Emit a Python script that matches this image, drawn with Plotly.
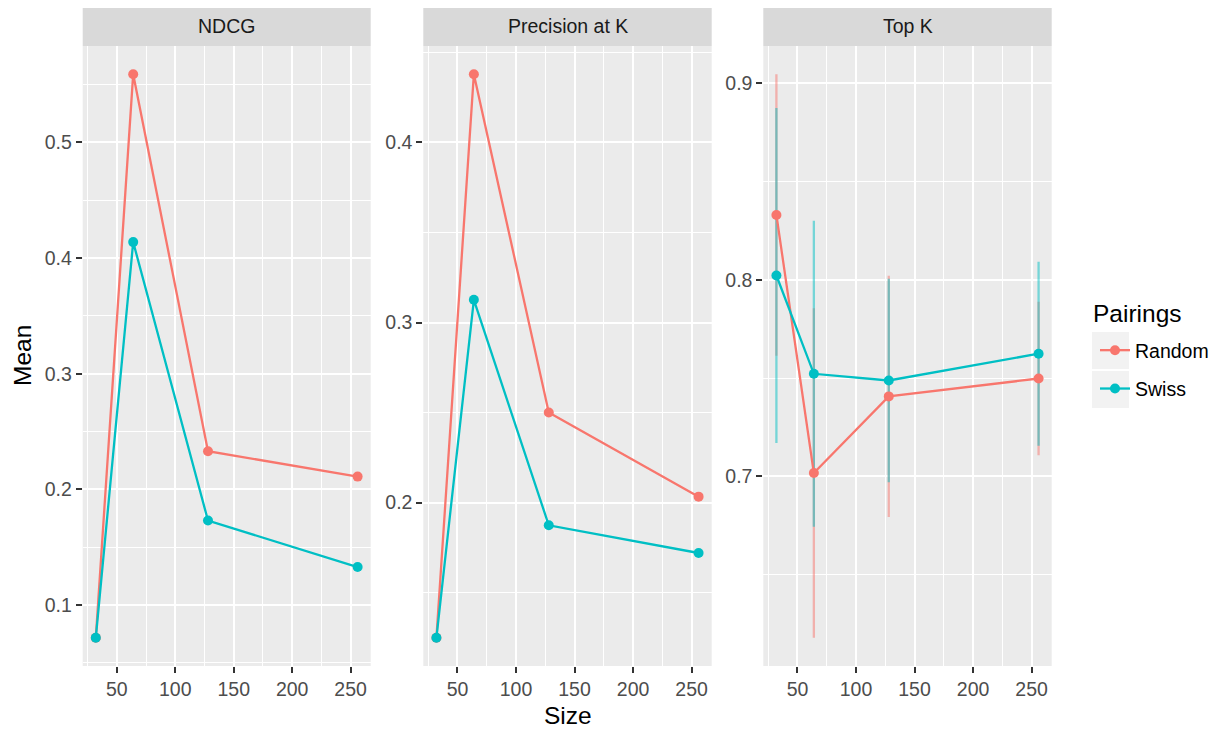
import plotly.graph_objects as go

# ---------------- data ----------------
sizes = [32, 64, 128, 256]
metrics = ["NDCG", "Precision at K", "Top K"]
pairings = ["Random", "Swiss"]

ndcg_random = [0.0716, 0.559, 0.233, 0.211]
ndcg_swiss = [0.0716, 0.4138, 0.173, 0.1328]
prec_random = [0.1249, 0.4379, 0.2500, 0.2033]
prec_swiss = [0.1249, 0.3126, 0.1874, 0.1720]
topk_random = [0.833, 0.7017, 0.7407, 0.7498]
topk_swiss = [0.8022, 0.7522, 0.7488, 0.7624]
topk_random_err = [0.0716, 0.0838, 0.0614, 0.0390]
topk_swiss_err = [0.0852, 0.0778, 0.0518, 0.0468]

x_tickvals = [50, 100, 150, 200, 250]
y_major = {"NDCG": 0.1, "Precision at K": 0.1, "Top K": 0.1}

# ---------------- styling ----------------
PAGE_W, PAGE_H = 1225, 731
OFF = 8  # default body margin of the html page
W, H = PAGE_W - 2 * OFF, PAGE_H - OFF
FONT = "Liberation Sans, Arial, Helvetica, sans-serif"
colors = {"Random": "#F8766D", "Swiss": "#00BFC4"}
err_colors = {"Random": "rgba(248,118,109,0.5)", "Swiss": "rgba(0,191,196,0.5)"}

panel_x_px = [(82.7, 370.7), (423.3, 711.7), (763.3, 1051.7)]
panel_top_px, panel_bot_px = 46, 666
strip_top_px = 5


def fx(px):
    return (px - OFF) / W


def fy(py):
    return 1 - (py - OFF) / H


series = {
    "NDCG": {"Random": ndcg_random, "Swiss": ndcg_swiss},
    "Precision at K": {"Random": prec_random, "Swiss": prec_swiss},
    "Top K": {"Random": topk_random, "Swiss": topk_swiss},
}
errors = {"Top K": {"Random": topk_random_err, "Swiss": topk_swiss_err}}


def expand(lo, hi, f=0.05):
    d = hi - lo
    return [lo - d * f, hi + d * f]


fig = go.Figure()

for i, m in enumerate(metrics):
    ax = "" if i == 0 else str(i + 1)
    xa, ya = "x" + ax, "y" + ax
    # error bars first (under lines/points)
    if m in errors:
        for p in pairings:
            fig.add_trace(go.Scatter(
                x=sizes, y=series[m][p], mode="markers",
                marker=dict(size=1, opacity=0),
                error_y=dict(type="data", array=errors[m][p], visible=True,
                             color=err_colors[p], thickness=2.3, width=0),
                xaxis=xa, yaxis=ya, showlegend=False, hoverinfo="skip",
            ))
    for p in pairings:
        fig.add_trace(go.Scatter(
            x=sizes, y=series[m][p], mode="lines+markers", name=p,
            line=dict(color=colors[p], width=2.3),
            marker=dict(color=colors[p], size=10),
            xaxis=xa, yaxis=ya, legendgroup=p, showlegend=(i == 0),
        ))

    # ranges from data (ggplot-like 5% expansion)
    vals = []
    for p in pairings:
        if m in errors:
            vals += [v + e for v, e in zip(series[m][p], errors[m][p])]
            vals += [v - e for v, e in zip(series[m][p], errors[m][p])]
        else:
            vals += series[m][p]
    yr = expand(min(vals), max(vals))
    xr = expand(min(sizes), max(sizes))

    x0, x1 = panel_x_px[i]
    axis_common = dict(
        showgrid=True, gridcolor="white", gridwidth=2.2,
        zeroline=False, showline=False,
        ticks="outside", ticklen=6, tickwidth=2, tickcolor="#333333",
        tickfont=dict(family=FONT, size=19.5, color="#4D4D4D"),
        automargin=False,
    )
    fig.layout["xaxis" + ax] = dict(
        domain=[fx(x0), fx(x1)], range=xr, anchor=ya,
        tickvals=x_tickvals,
        minor=dict(tick0=25, dtick=50, showgrid=True, gridcolor="white",
                   gridwidth=1.1, ticks=""),
        **axis_common,
    )
    fig.layout["yaxis" + ax] = dict(
        domain=[fy(panel_bot_px), fy(panel_top_px)], range=yr, anchor=xa,
        tick0=0, dtick=y_major[m], tickformat=".1f",
        minor=dict(tick0=0.05, dtick=0.1, showgrid=True, gridcolor="white",
                   gridwidth=1.1, ticks=""),
        **axis_common,
    )
    # strip
    fig.add_shape(type="rect", xref="paper", yref="paper",
                  x0=fx(x0), x1=fx(x1), y0=fy(panel_top_px), y1=fy(strip_top_px),
                  fillcolor="#D9D9D9", line=dict(width=0), layer="below")
    fig.add_annotation(text=m, xref="paper", yref="paper",
                       x=(fx(x0) + fx(x1)) / 2, y=(fy(panel_top_px) + fy(strip_top_px)) / 2,
                       showarrow=False, xanchor="center", yanchor="middle",
                       font=dict(family=FONT, size=19.5, color="#1A1A1A"))

# axis titles
fig.add_annotation(text="Size", xref="paper", yref="paper",
                   x=fx((panel_x_px[1][0] + panel_x_px[1][1]) / 2), y=fy(715),
                   showarrow=False, xanchor="center", yanchor="middle",
                   font=dict(family=FONT, size=24.5, color="black"))
fig.add_annotation(text="Mean", xref="paper", yref="paper",
                   x=fx(22), y=fy((panel_top_px + panel_bot_px) / 2), textangle=-90,
                   showarrow=False, xanchor="center", yanchor="middle",
                   font=dict(family=FONT, size=24.5, color="black"))

# legend title
fig.add_annotation(text="Pairings", xref="paper", yref="paper",
                   x=fx(1091), y=fy(313), showarrow=False,
                   xanchor="left", yanchor="middle",
                   font=dict(family=FONT, size=24.5, color="black"))

# legend key backgrounds
for (t, b) in [(332, 369), (371, 408)]:
    fig.add_shape(type="rect", xref="paper", yref="paper",
                  x0=fx(1092), x1=fx(1129), y0=fy(b), y1=fy(t),
                  fillcolor="#F2F2F2", line=dict(width=0), layer="below")

fig.update_layout(
    width=W, height=H,
    margin=dict(l=0, r=0, t=0, b=0),
    paper_bgcolor="white", plot_bgcolor="#EBEBEB",
    showlegend=True,
    legend=dict(
        font=dict(family=FONT, size=19.5, color="black"),
        x=fx(1095), y=fy(331), xanchor="left", yanchor="top",
        bgcolor="rgba(0,0,0,0)", tracegroupgap=10,
    ),
)

fig.write_html("out.html")
